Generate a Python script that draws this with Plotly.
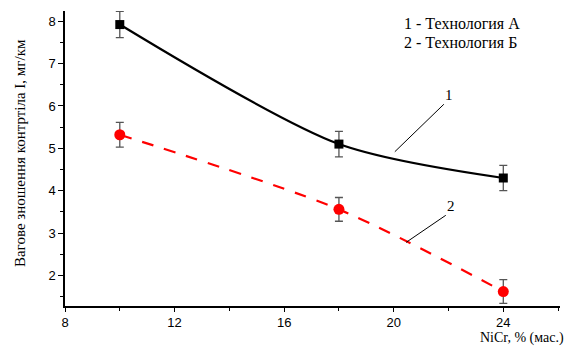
import plotly.graph_objects as go

x_vals = [10, 18, 24]
tech_a = [7.92, 5.10, 4.30]
tech_a_err = [0.31, 0.30, 0.30]
tech_b = [5.32, 3.56, 1.62]
tech_b_err = [0.29, 0.28, 0.28]
x_ticks = [8, 12, 16, 20, 24]
y_ticks = [2, 3, 4, 5, 6, 7, 8]

fig = go.Figure()
fig.add_trace(go.Scatter(
    x=x_vals, y=tech_a, mode="lines", line=dict(color="black", width=2.2, shape="spline", smoothing=0.8),
    showlegend=False, hoverinfo="skip"))
fig.add_trace(go.Scatter(
    x=x_vals, y=tech_b, mode="lines", line=dict(color="red", width=2.2, shape="spline", smoothing=0.8, dash="12px,11px"),
    showlegend=False, hoverinfo="skip"))
fig.add_trace(go.Scatter(
    x=x_vals, y=tech_a, mode="markers",
    marker=dict(symbol="square", size=9, color="black"),
    error_y=dict(type="data", array=tech_a_err, color="#555555", thickness=1.3, width=4),
    showlegend=False))
fig.add_trace(go.Scatter(
    x=x_vals, y=tech_b, mode="markers",
    marker=dict(symbol="circle", size=11, color="red"),
    error_y=dict(type="data", array=tech_b_err, color="#555555", thickness=1.3, width=4),
    showlegend=False))

serif = "Liberation Serif"
sans = "Liberation Sans"

annotations = [
    dict(xref="paper", yref="paper", x=0.68, y=0.956, xanchor="left", yanchor="middle",
         text="1 - Технология А", showarrow=False, font=dict(family=serif, size=16, color="black")),
    dict(xref="paper", yref="paper", x=0.68, y=0.893, xanchor="left", yanchor="middle",
         text="2 - Технология Б", showarrow=False, font=dict(family=serif, size=16, color="black")),
    dict(x=22.02, y=6.25, text="1", showarrow=False, font=dict(family=serif, size=15, color="black")),
    dict(x=22.1, y=3.64, text="2", showarrow=False, font=dict(family=serif, size=15, color="black")),
    dict(xref="paper", yref="paper", x=1.01, y=-0.14, xanchor="right", yanchor="bottom",
         borderpad=0,
         text="NiCr, % (мас.)", showarrow=False, font=dict(family=serif, size=14, color="black")),
    dict(xref="paper", yref="paper", x=-0.092, y=0.52, xanchor="center", yanchor="middle", textangle=-90,
         text="Вагове зношення контртіла I, мг/км", showarrow=False, font=dict(family=serif, size=15, color="black")),
]

shapes = [
    dict(type="line", x0=21.83, y0=6.04, x1=20.04, y1=4.92, line=dict(color="black", width=1)),
    dict(type="line", x0=21.9, y0=3.42, x1=20.45, y1=2.78, line=dict(color="black", width=1)),
]

fig.update_layout(
    width=565, height=347,
    margin=dict(l=65, r=5, t=11, b=41),
    plot_bgcolor="white", paper_bgcolor="white",
    annotations=annotations, shapes=shapes,
    xaxis=dict(range=[8, 26.07], tickvals=x_ticks, showgrid=False, zeroline=False,
               showline=True, linecolor="black", linewidth=1.5, ticks="outside", ticklen=4,
               tickcolor="black", tickfont=dict(family=sans, size=13, color="black"),
               minor=dict(dtick=2, tick0=8, ticks="outside", ticklen=3, tickcolor="black")),
    yaxis=dict(range=[1.28, 8.24], tickvals=y_ticks, showgrid=False, zeroline=False,
               showline=True, linecolor="black", linewidth=1.5, ticks="outside", ticklen=5,
               tickcolor="black", tickfont=dict(family=sans, size=13, color="black"),
               minor=dict(dtick=0.5, tick0=0, ticks="outside", ticklen=3, tickcolor="black")),
)

fig.write_html("out.html")
